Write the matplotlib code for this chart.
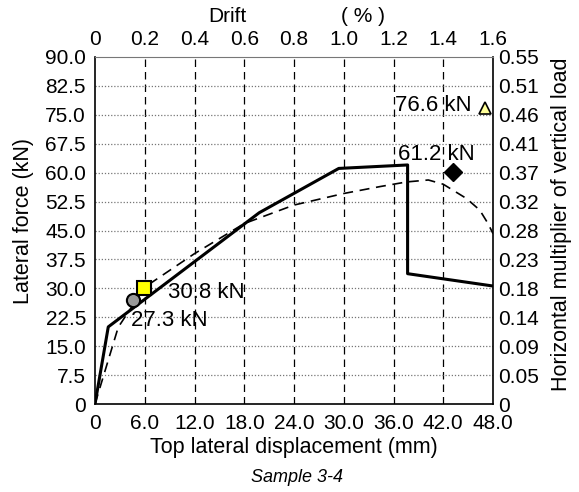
import matplotlib
matplotlib.use("Agg")
import matplotlib.pyplot as plt

plt.rcParams.update({"font.family": "Liberation Sans", "font.size": 15})

# ---- data ----
disp_test = [0, 1.6, 19.8, 29.4, 37.7, 37.7, 48.0]
force_test = [0, 20.0, 49.6, 61.1, 62.0, 33.8, 30.6]
disp_calc = [0, 2.8, 6.0, 12.0, 18.0, 24.0, 30.0, 34.4, 37.6, 40.2, 42.0, 44.8, 46.4, 47.4, 48.0]
force_calc = [0, 19.9, 30.3, 39.0, 46.8, 51.6, 54.6, 56.4, 57.6, 58.1, 57.0, 53.3, 50.3, 46.8, 44.2]

x_ticks = [0, 6, 12, 18, 24, 30, 36, 42, 48]
x_labels = ["0", "6.0", "12.0", "18.0", "24.0", "30.0", "36.0", "42.0", "48.0"]
y_ticks = [0, 7.5, 15, 22.5, 30, 37.5, 45, 52.5, 60, 67.5, 75, 82.5, 90]
y_labels = ["0", "7.5", "15.0", "22.5", "30.0", "37.5", "45.0", "52.5", "60.0",
            "67.5", "75.0", "82.5", "90.0"]
drift_labels = ["0", "0.2", "0.4", "0.6", "0.8", "1.0", "1.2", "1.4", "1.6"]
mult_labels = ["0", "0.05", "0.09", "0.14", "0.18", "0.23", "0.28", "0.32", "0.37",
               "0.41", "0.46", "0.51", "0.55"]

# key points: (disp, force)
crack_pt = (4.55, 27.1)      # circle, 27.3 kN
yield_pt = (5.85, 30.0)      # square, 30.8 kN
peak_pt = (43.2, 60.2)       # diamond, 61.2 kN
calc_pt = (47.0, 76.7)       # triangle, 76.6 kN

W, H = 579, 492
fig = plt.figure(figsize=(W / 100, H / 100), dpi=100)
ax = fig.add_axes([95 / W, 1 - 404 / H, 398 / W, 347 / H])

# grid
for xv in x_ticks[1:-1]:
    ax.axvline(xv, color="black", lw=0.9, ls=(0, (6, 4)), zorder=1)
for yv in y_ticks[1:-1]:
    ax.axhline(yv, color="#777777", lw=0.9, ls=(0, (1, 1.5)), zorder=1)

ax.plot(disp_test, force_test, color="black", lw=2.2, zorder=3)
ax.plot(disp_calc, force_calc, color="black", lw=1.2, ls=(0, (6, 4)), zorder=3)

ax.plot(*crack_pt, "o", ms=9.5, mfc="#999999", mec="black", mew=1.5, zorder=4)
ax.plot(*yield_pt, "s", ms=9.5, mfc="#ffff00", mec="black", mew=1.5, zorder=4)
ax.plot(*peak_pt, "D", ms=9, mfc="black", mec="black", zorder=4)
ax.plot(*calc_pt, "^", ms=8, mfc="#ffff99", mec="black", mew=1.2, zorder=4)

ann = dict(va="center", ha="left", fontsize=16, zorder=5)
ax.text(8.8, 29.0, "30.8 kN", **ann)
ax.text(4.35, 21.6, "27.3 kN", **ann)
ax.text(36.5, 64.6, "61.2 kN", **ann)
ax.text(36.2, 77.3, "76.6 kN", **ann)

ax.set_xlim(0, 48)
ax.set_ylim(0, 90)
ax.set_xticks(x_ticks)
ax.set_xticklabels(x_labels)
ax.set_yticks(y_ticks)
ax.set_yticklabels(y_labels)
ax.tick_params(axis="x", length=0, pad=7)
ax.tick_params(axis="y", length=0, pad=6.5)
ax.spines["top"].set_color("#777777")
for s in ["left", "bottom", "right"]:
    ax.spines[s].set_linewidth(1.2)

# right axis: horizontal multiplier of vertical load
axr = ax.twinx()
axr.set_ylim(0, 90)
axr.set_yticks(y_ticks)
axr.set_yticklabels(mult_labels)
axr.tick_params(length=0, pad=3.6)

# top axis: drift
axt = ax.twiny()
axt.set_xlim(0, 48)
axt.set_xticks(x_ticks)
axt.set_xticklabels(drift_labels)
axt.tick_params(length=0, pad=5.5)
for a in (axr, axt):
    for s in a.spines.values():
        s.set_visible(False)

# axis titles placed in pixel positions of the reference
fig.text(294 / W, 1 - 448 / H, "Top lateral displacement (mm)", ha="center",
         va="center", fontsize=15.5)
fig.text(23.5 / W, 1 - 221 / H, "Lateral force (kN)", ha="center", va="center",
         rotation=90, fontsize=15.5)
fig.text(561 / W, 1 - 224 / H, "Horizontal multiplier of vertical load", ha="center",
         va="center", rotation=90, fontsize=15.5)
fig.text(227 / W, 1 - 17 / H, "Drift", ha="center", va="center", fontsize=15)
fig.text(363 / W, 1 - 17 / H, "( % )", ha="center", va="center", fontsize=15)
fig.text(297 / W, 1 - 478 / H, "Sample 3-4", ha="center", va="center",
         fontsize=13, style="italic")

fig.savefig("out.png", dpi=100)
